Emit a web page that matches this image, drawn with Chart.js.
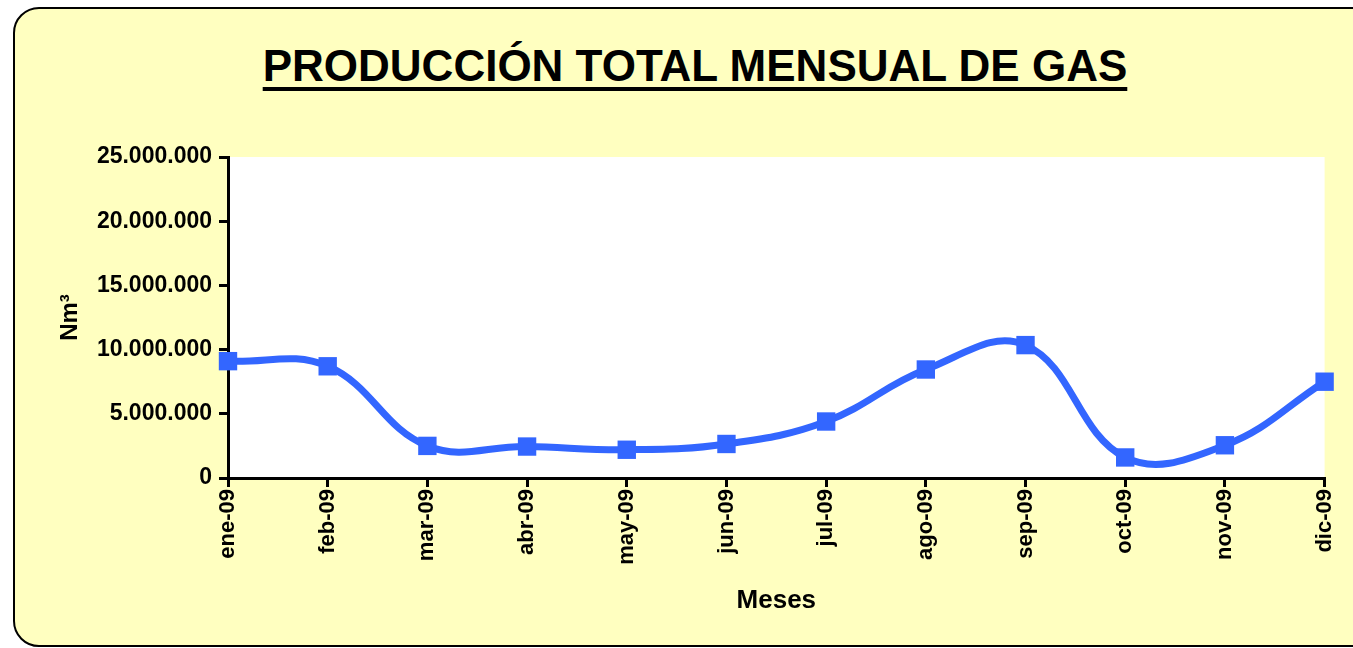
<!DOCTYPE html>
<html>
<head>
<meta charset="utf-8">
<script src="https://cdn.jsdelivr.net/npm/chart.js@4"></script>
<style>
  body { margin: 0; background: #fff; overflow: hidden; }
  #box {
    position: absolute; left: 13px; top: 7px; width: 1400px; height: 636px;
    background: #FFFFC0; border: 2px solid #000; border-radius: 26px;
  }
  #title {
    position: absolute; left: 13px; width: 1364px; top: 42px; text-align: center;
    font: bold 44px "Liberation Sans", Arial, sans-serif; line-height: 48px; color: #000;
    text-decoration: underline; text-decoration-thickness: 4px; text-underline-offset: 6px;
  }
  #chart { position: absolute; left: 0; top: 0; }
</style>
</head>
<body>
<div id="box"></div>
<div id="title">PRODUCCIÓN TOTAL MENSUAL DE GAS</div>
<canvas id="chart" width="1353" height="648"></canvas>
<script>
const months = ['ene-09', 'feb-09', 'mar-09', 'abr-09', 'may-09', 'jun-09',
    'jul-09', 'ago-09', 'sep-09', 'oct-09', 'nov-09', 'dic-09'];
const gasNm3 = [9100000, 8700000, 2500000, 2450000, 2200000, 2650000,
    4400000, 8450000, 10350000, 1600000, 2550000, 7500000];
const yTicks = [0, 5000000, 10000000, 15000000, 20000000, 25000000];

const chartCanvas = document.getElementById('chart');
const font = 'bold', family = '"Liberation Sans", Arial, sans-serif';

function fmt(v) {
    return v.toString().replace(/\B(?=(\d{3})+(?!\d))/g, '.');
}

const whitePlot = {
    id: 'whitePlot',
    beforeDraw(chart) {
        const a = chart.chartArea;
        const ctx = chart.ctx;
        ctx.save();
        ctx.fillStyle = '#fff';
        ctx.fillRect(a.left, a.top, a.right - a.left, a.bottom - a.top);
        ctx.restore();
    }
};

new Chart(chartCanvas, {
    type: 'line',
    data: {
        labels: months,
        datasets: [{
            data: gasNm3,
            borderColor: '#3366FF',
            backgroundColor: '#3366FF',
            borderWidth: 7,
            tension: 0.4,
            pointStyle: 'rect',
            pointRadius: 13,
            pointBorderWidth: 0,
            clip: false
        }]
    },
    options: {
        responsive: false,
        animation: false,
        layout: { padding: { left: 48, top: 157, right: 28, bottom: 0 } },
        plugins: { legend: { display: false }, tooltip: { enabled: false } },
        scales: {
            x: {
                offset: false,
                afterFit(s) { s.height = 170; },
                border: { display: true, color: '#000', width: 3 },
                grid: { drawOnChartArea: false, color: '#000', lineWidth: 3, tickLength: 9 },
                ticks: {
                    color: '#000', minRotation: 90, maxRotation: 90, padding: 2,
                    font: { family: family, weight: font, size: 22 }
                },
                title: {
                    display: true, text: 'Meses', color: '#000',
                    font: { family: family, weight: font, size: 26 },
                    padding: { top: 4, bottom: 32 }
                }
            },
            y: {
                min: 0, max: 25000000,
                afterFit(s) { s.width = 180; },
                afterBuildTicks(s) { s.ticks = yTicks.map(v => ({ value: v })); },
                border: { display: true, color: '#000', width: 3 },
                grid: { drawOnChartArea: false, color: '#000', lineWidth: 3, tickLength: 9 },
                ticks: {
                    color: '#000', padding: 7,
                    font: { family: family, weight: font, size: 23 },
                    callback: v => fmt(v)
                },
                title: {
                    display: true, text: 'Nm³', color: '#000',
                    font: { family: family, weight: font, size: 24 },
                    padding: { top: 8, bottom: 0 }
                }
            }
        }
    },
    plugins: [whitePlot]
});
</script>
</body>
</html>
